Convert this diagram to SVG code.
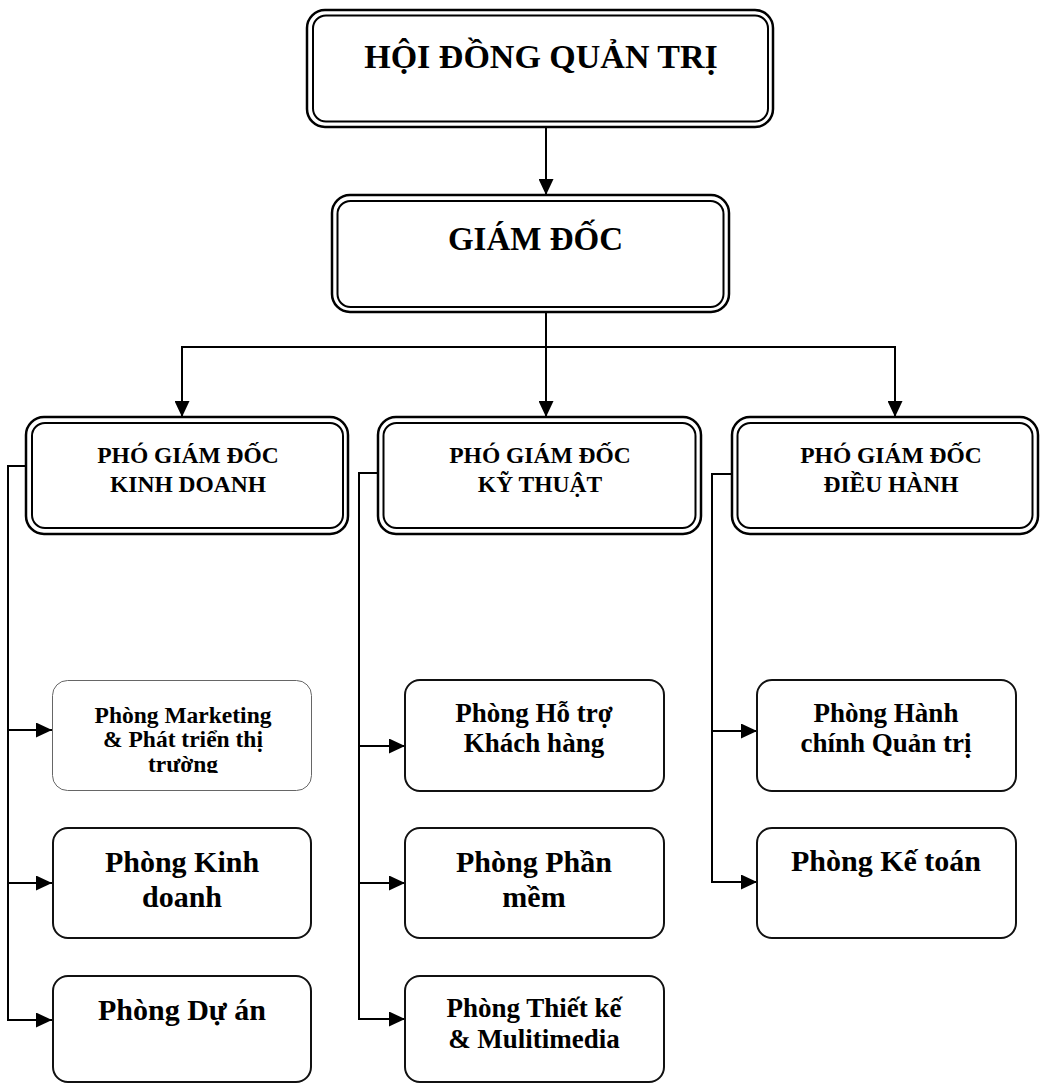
<svg xmlns="http://www.w3.org/2000/svg" width="1040" height="1084" viewBox="0 0 1040 1084">
<style>
.bg{fill:#fff}
.o{fill:#fff;stroke:#000;stroke-width:2.5}
.i{fill:none;stroke:#000;stroke-width:2}
.b{fill:#fff;stroke:#111;stroke-width:2}
.thin{fill:#fff;stroke:#666;stroke-width:1}
.c{fill:none;stroke:#000;stroke-width:2}
text{font-family:"Liberation Serif","Times New Roman",serif;font-weight:bold;fill:#000;text-anchor:middle}
.t1{font-size:34px}
.t2{font-size:33px}
.t3{font-size:23.5px}
.t4{font-size:27px}
.t5{font-size:30px}
.t6{font-size:23.5px}
</style>
<defs>
<marker id="ah" viewBox="0 0 16 15" refX="16" refY="7.5" markerWidth="16" markerHeight="15" markerUnits="userSpaceOnUse" orient="auto">
<path d="M0,0 L16,7.5 L0,15 Z" fill="#000"/>
</marker>
<clipPath id="mkclip"><rect x="52" y="680" width="260" height="93"/></clipPath>
</defs>
<rect class="bg" x="0" y="0" width="1040" height="1084"/>

<g id="connectors">
<line class="c" x1="546" y1="127" x2="546" y2="195" marker-end="url(#ah)"/>
<line class="c" x1="546" y1="312" x2="546" y2="417" marker-end="url(#ah)"/>
<polyline class="c" points="182,417 182,347 895,347 895,417"/>
<line class="c" x1="182" y1="400" x2="182" y2="417" marker-end="url(#ah)"/>
<line class="c" x1="895" y1="400" x2="895" y2="417" marker-end="url(#ah)"/>

<polyline class="c" points="26,466 8,466 8,1020 52,1020" marker-end="url(#ah)"/>
<line class="c" x1="8" y1="730" x2="52" y2="730" marker-end="url(#ah)"/>
<line class="c" x1="8" y1="883" x2="52" y2="883" marker-end="url(#ah)"/>

<polyline class="c" points="378,473 359,473 359,1019 405,1019" marker-end="url(#ah)"/>
<line class="c" x1="359" y1="746" x2="405" y2="746" marker-end="url(#ah)"/>
<line class="c" x1="359" y1="883" x2="405" y2="883" marker-end="url(#ah)"/>

<polyline class="c" points="732,474 712,474 712,882 757,882" marker-end="url(#ah)"/>
<line class="c" x1="712" y1="731" x2="757" y2="731" marker-end="url(#ah)"/>
</g>

<g id="hdqt">
<rect class="o" x="307" y="10" width="466" height="117" rx="18"/>
<rect class="i" x="313" y="15.5" width="455" height="106" rx="13"/>
<text class="t1" x="541" y="68">HỘI ĐỒNG QUẢN TRỊ</text>
</g>

<g id="giamdoc">
<rect class="o" x="332" y="195" width="397" height="117" rx="18"/>
<rect class="i" x="337.5" y="201" width="386" height="106" rx="13"/>
<text class="t2" x="535.5" y="250">GIÁM ĐỐC</text>
</g>

<g id="pgd-kd">
<rect class="o" x="26" y="417" width="322" height="117" rx="18"/>
<rect class="i" x="32" y="423" width="311" height="105" rx="13"/>
<text class="t3" x="188" y="463">PHÓ GIÁM ĐỐC</text>
<text class="t3" x="188" y="492">KINH DOANH</text>
</g>

<g id="pgd-kt">
<rect class="o" x="378" y="417" width="323" height="117" rx="18"/>
<rect class="i" x="383.5" y="423" width="312" height="105" rx="13"/>
<text class="t3" x="540" y="463">PHÓ GIÁM ĐỐC</text>
<text class="t3" x="540" y="492">KỸ THUẬT</text>
</g>

<g id="pgd-dh">
<rect class="o" x="732" y="417" width="306" height="117" rx="18"/>
<rect class="i" x="737.5" y="423" width="295" height="105" rx="13"/>
<text class="t3" x="891" y="463">PHÓ GIÁM ĐỐC</text>
<text class="t3" x="891" y="492">ĐIỀU HÀNH</text>
</g>

<g id="p-marketing">
<rect class="thin" x="52.5" y="680.5" width="259" height="110" rx="15"/>
<text class="t6" x="183" y="723">Phòng Marketing</text>
<text class="t6" x="183" y="747">&amp; Phát triển thị</text>
<text class="t6" x="183" y="772" clip-path="url(#mkclip)">trường</text>
</g>

<g id="p-kinhdoanh">
<rect class="b" x="53" y="828" width="258" height="110" rx="15"/>
<text class="t5" x="182" y="872">Phòng Kinh</text>
<text class="t5" x="182" y="907">doanh</text>
</g>

<g id="p-duan">
<rect class="b" x="53" y="976" width="258" height="106" rx="15"/>
<text class="t5" x="182" y="1020">Phòng Dự án</text>
</g>

<g id="p-hotro">
<rect class="b" x="405" y="680" width="259" height="111" rx="15"/>
<text class="t4" x="534" y="722">Phòng Hỗ trợ</text>
<text class="t4" x="534" y="752">Khách hàng</text>
</g>

<g id="p-phanmem">
<rect class="b" x="405" y="828" width="259" height="110" rx="15"/>
<text class="t5" x="534" y="872">Phòng Phần</text>
<text class="t5" x="534" y="907">mềm</text>
</g>

<g id="p-thietke">
<rect class="b" x="405" y="976" width="259" height="106" rx="15"/>
<text class="t4" x="534" y="1017">Phòng Thiết kế</text>
<text class="t4" x="534" y="1048">&amp; Mulitimedia</text>
</g>

<g id="p-hanhchinh">
<rect class="b" x="757" y="680" width="259" height="111" rx="15"/>
<text class="t4" x="886" y="722">Phòng Hành</text>
<text class="t4" x="886" y="752">chính Quản trị</text>
</g>

<g id="p-ketoan">
<rect class="b" x="757" y="828" width="259" height="110" rx="15"/>
<text class="t5" x="886" y="871">Phòng Kế toán</text>
</g>
</svg>
